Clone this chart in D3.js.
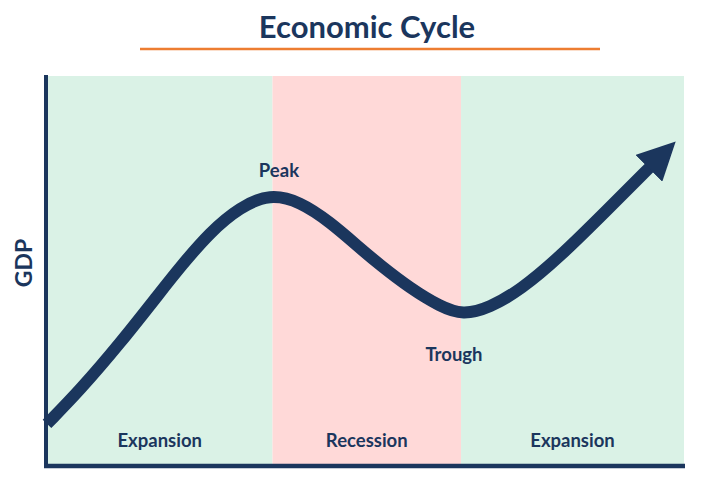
<!DOCTYPE html>
<html>
<head>
<meta charset="utf-8">
<script src="https://cdn.jsdelivr.net/npm/d3@7/dist/d3.min.js"></script>
<style>
  html, body { margin: 0; padding: 0; background: #ffffff; }
  svg { display: block; }
</style>
</head>
<body>
<svg id="chart" width="726" height="487"></svg>
<script>
// ---- data ----
const title = "Economic Cycle";
const yLabel = "GDP";
const phaseNames = ["Expansion", "Recession", "Expansion"];
const phaseStart = [0, 35.4, 65.0];
const phaseEnd = [35.4, 65.0, 100];
const gdpX = [0, 5.2, 11.5, 17.7, 20.9, 25.6, 30.3, 35.0, 39.7, 44.4, 49.1, 52.3, 57.0, 61.7, 65.3, 69.5, 74.3, 80.5, 87.9, 94.7];
const gdpY = [10.8, 19.5, 31.5, 44.4, 51.0, 60.0, 66.4, 69.8, 67.8, 62.6, 55.9, 51.5, 45.6, 40.9, 38.7, 40.6, 45.1, 53.6, 65.6, 76.7];
const pointNames = ["Peak", "Trough"];
const pointIndex = [7, 14];

// ---- layout ----
const navy = "#1b365d";
const svg = d3.select("#chart");
const x = d3.scaleLinear().domain([0, 100]).range([47, 684]);
const y = d3.scaleLinear().domain([0, 100]).range([466, 76]);

// title
svg.append("text")
  .attr("x", 367).attr("y", 38)
  .attr("text-anchor", "middle")
  .attr("font-family", "Lato, 'Open Sans', sans-serif")
  .attr("font-weight", 700)
  .attr("font-size", 31)
  .attr("fill", navy)
  .text(title);
svg.append("line")
  .attr("x1", 140).attr("x2", 600).attr("y1", 49).attr("y2", 49)
  .attr("stroke", "#ed7d31").attr("stroke-width", 2.5);

// phase bands
const phases = phaseNames.map((n, i) => ({ name: n, s: phaseStart[i], e: phaseEnd[i] }));
svg.selectAll("rect.band").data(phases).join("rect")
  .attr("class", "band")
  .attr("x", d => x(d.s)).attr("width", d => x(d.e) - x(d.s))
  .attr("y", y(100)).attr("height", y(0) - y(100))
  .attr("fill", d => d.name === "Recession" ? "#ffd9d8" : "#daf2e6");

svg.selectAll("text.phase").data(phases).join("text")
  .attr("class", "phase")
  .attr("x", d => (x(d.s) + x(d.e)) / 2)
  .attr("y", 447)
  .attr("text-anchor", "middle")
  .attr("font-family", "Lato, 'Open Sans', sans-serif")
  .attr("font-weight", 700)
  .attr("font-size", 18.5)
  .attr("fill", navy)
  .text(d => d.name);

// arrow marker
svg.append("defs").append("marker")
  .attr("id", "arrow")
  .attr("markerUnits", "userSpaceOnUse")
  .attr("viewBox", "0 -19 38 38")
  .attr("refX", 2).attr("refY", 0)
  .attr("markerWidth", 38).attr("markerHeight", 38)
  .attr("orient", "auto")
  .append("path")
  .attr("d", "M0,-19L38,0L0,19Z")
  .attr("fill", navy);

// curve
const pts = gdpX.map((v, i) => [v, gdpY[i]]);
const line = d3.line().x(d => x(d[0])).y(d => y(d[1])).curve(d3.curveBasis);
svg.append("path")
  .attr("d", line(pts))
  .attr("fill", "none")
  .attr("stroke", navy)
  .attr("stroke-width", 12)
  .attr("marker-end", "url(#arrow)");

// annotations
const offsets = [[9, -17], [-9, 46]];
svg.selectAll("text.pt").data(pointNames).join("text")
  .attr("class", "pt")
  .attr("x", (d, i) => x(gdpX[pointIndex[i]]) + offsets[i][0])
  .attr("y", (d, i) => y(gdpY[pointIndex[i]]) + offsets[i][1])
  .attr("text-anchor", "middle")
  .attr("font-family", "Lato, 'Open Sans', sans-serif")
  .attr("font-weight", 700)
  .attr("font-size", 18.5)
  .attr("fill", navy)
  .text(d => d);

// axes
svg.append("line")
  .attr("x1", x(0) - 1).attr("x2", x(0) - 1)
  .attr("y1", y(100) - 1).attr("y2", y(0) + 2)
  .attr("stroke", navy).attr("stroke-width", 4);
svg.append("line")
  .attr("x1", x(0) - 3).attr("x2", x(100) + 1)
  .attr("y1", y(0)).attr("y2", y(0))
  .attr("stroke", navy).attr("stroke-width", 4.5);

// y label
svg.append("text")
  .attr("transform", "translate(32,263) rotate(-90)")
  .attr("text-anchor", "middle")
  .attr("font-family", "Lato, 'Open Sans', sans-serif")
  .attr("font-weight", 700)
  .attr("font-size", 23)
  .attr("fill", navy)
  .text(yLabel);
</script>
</body>
</html>
